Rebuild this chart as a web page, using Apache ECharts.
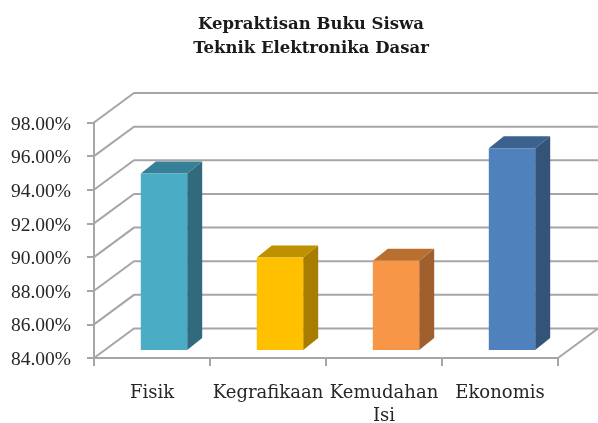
<!DOCTYPE html>
<html>
<head>
	<meta charset="utf-8" />
	<title>Kepraktisan Buku Siswa</title>
	<script src="https://fastly.jsdelivr.net/npm/echarts@6/dist/echarts.min.js"></script>
	<style>
		html, body { margin: 0; padding: 0; background: #fff; }
		#chart { width: 598px; height: 423px; }
	</style>
</head>
<body>
	<div id="chart"></div>
	<script>
		var titleText = 'Kepraktisan Buku Siswa\nTeknik Elektronika Dasar';
		var categories = ['Fisik', 'Kegrafikaan', 'Kemudahan\nIsi', 'Ekonomis'];
		var values = [94.5, 89.5, 89.3, 96.0];
		var gridTicks = [84, 86, 88, 90, 92, 94, 96, 98];

		// front, side, top of each bar
		var barColors = [
			['#4bacc6', '#31697d', '#378097'],
			['#ffc000', '#a67d00', '#bf9000'],
			['#f79646', '#a0602d', '#b96f30'],
			['#4f81bd', '#335478', '#3b618e']
		];
		var lineColor = '#a6a6a6';
		var textColor = '#262626';
		var font = '"DejaVu Serif"';

		// fake 3D depth of the chart box and of the bars, in pixels
		var wallDx = 40, wallDy = -29.5;
		var barDx = 15, barDy = -12;
		var barShiftX = 12, barShiftY = -8;

		function renderWall(params, api) {
			var cs = params.coordSys;
			var y = api.coord([0, api.value(1)])[1];
			var x0 = cs.x, x1 = cs.x + cs.width;
			var style = { stroke: lineColor, lineWidth: 2, fill: null };
			var children = [{
				type: 'polyline',
				shape: { points: [[x0, y], [x0 + wallDx, y + wallDy], [x1 + wallDx, y + wallDy]] },
				style: style
			}];
			// floor edge on the right side
			if (params.dataIndex === 0) {
				children.push({
					type: 'line',
					shape: { x1: x1, y1: y, x2: x1 + wallDx, y2: y + wallDy },
					style: style
				});
			}
			return { type: 'group', children: children };
		}

		function renderBar(params, api) {
			var i = api.value(0);
			var top = api.coord([i, api.value(1)]);
			var base = api.coord([i, gridTicks[0]]);
			var w = api.size([1, 0])[0] * 0.4;
			var l = top[0] + barShiftX - w / 2, r = l + w;
			var t = top[1] + barShiftY, b = base[1] + barShiftY;
			var c = barColors[i];
			return {
				type: 'group',
				children: [
					{
						type: 'polygon',
						shape: { points: [[r, t], [r + barDx, t + barDy], [r + barDx, b + barDy], [r, b]] },
						style: { fill: c[1] }
					},
					{
						type: 'polygon',
						shape: { points: [[l, t], [l + barDx, t + barDy], [r + barDx, t + barDy], [r, t]] },
						style: { fill: c[2] }
					},
					{
						type: 'rect',
						shape: { x: l, y: t, width: w, height: b - t },
						style: { fill: c[0] }
					}
				]
			};
		}

		var myChart = echarts.init(document.getElementById('chart'), null, { renderer: 'canvas' });

		var option = {
			animation: false,
			backgroundColor: '#fff',
			title: {
				text: titleText,
				left: 306,
				top: 8,
				textAlign: 'center',
				textStyle: {
					fontFamily: font,
					fontSize: 16.5,
					fontWeight: 'bold',
					color: '#1a1a1a',
					lineHeight: 24
				}
			},
			grid: { left: 94, right: 40, top: 122.5, bottom: 65, outerBoundsMode: 'none' },
			xAxis: {
				type: 'category',
				data: categories,
				axisLine: { lineStyle: { color: lineColor, width: 2 } },
				axisTick: { show: true, length: 8, lineStyle: { color: lineColor, width: 2 } },
				axisLabel: {
					interval: 0,
					margin: 24,
					fontFamily: font,
					fontSize: 18,
					lineHeight: 23,
					color: textColor,
					hideOverlap: false
				}
			},
			yAxis: {
				type: 'value',
				min: 84,
				max: 98,
				interval: 2,
				splitLine: { show: false },
				axisLine: { show: true, lineStyle: { color: lineColor, width: 2 } },
				axisTick: { show: true, length: 7, lineStyle: { color: lineColor, width: 2 } },
				axisLabel: {
					margin: 23,
					verticalAlign: 'top',
					lineHeight: 4, // pushes the label centre about 2px under its tick
					fontFamily: '"Liberation Serif"',
					fontSize: 19.5,
					color: textColor,
					formatter: function (v) { return v.toFixed(2) + '%'; }
				}
			},
			series: [
				{
					type: 'custom',
					silent: true,
					clip: false,
					z: 1,
					renderItem: renderWall,
					encode: { x: 0, y: 1 },
					data: gridTicks.map(function (v) { return [0, v]; })
				},
				{
					type: 'custom',
					silent: true,
					clip: false,
					z: 2,
					renderItem: renderBar,
					encode: { x: 0, y: 1 },
					data: values.map(function (v, i) { return [i, v]; })
				}
			]
		};

		myChart.setOption(option);
		window.addEventListener('resize', myChart.resize);
	</script>
</body>
</html>
